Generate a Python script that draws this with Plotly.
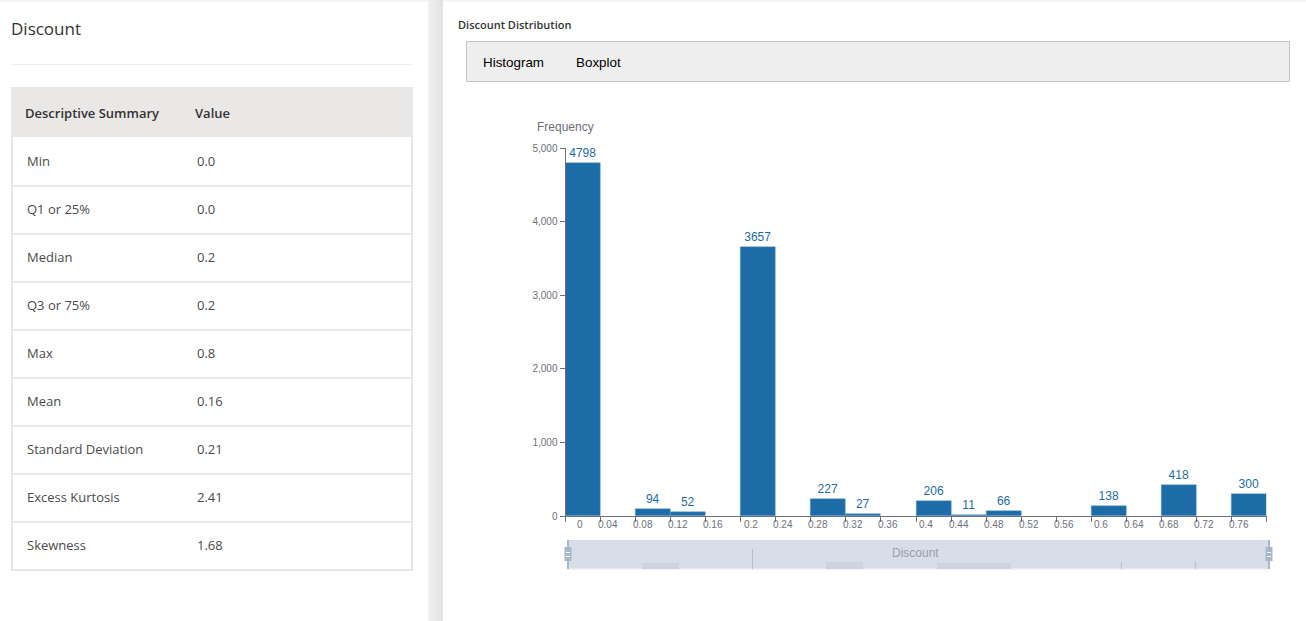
import plotly.graph_objects as go

W = 1306
H = 621

# histogram data
bin_edges = [0, 0.04, 0.08, 0.12, 0.16, 0.2, 0.24, 0.28, 0.32, 0.36, 0.4, 0.44, 0.48, 0.52, 0.56, 0.6, 0.64, 0.68, 0.72, 0.76, 0.8]
bin_labels = ["0", "0.04", "0.08", "0.12", "0.16", "0.2", "0.24", "0.28", "0.32", "0.36", "0.4", "0.44", "0.48", "0.52", "0.56", "0.6", "0.64", "0.68", "0.72", "0.76"]
frequency = [4798, 0, 94, 52, 0, 3657, 0, 227, 27, 0, 206, 11, 66, 0, 0, 138, 0, 418, 0, 300]
y_ticks = [0, 1000, 2000, 3000, 4000, 5000]

# summary table
stat_names = ["Min", "Q1 or 25%", "Median", "Q3 or 75%", "Max", "Mean", "Standard Deviation", "Excess Kurtosis", "Skewness"]
stat_values = ["0.0", "0.0", "0.2", "0.2", "0.8", "0.16", "0.21", "2.41", "1.68"]

# data zoom preview (heights on its own little axis)
shadow_cells = [2, 7, 10, 11]
shadow_heights = [6, 7, 6, 6]
spike_index = [0, 5, 15, 17]
spike_heights = [20, 20, 7, 8]

TEAL = "#1c6ca8"
AXIS = "#6e7079"
UI_FONT = "Open Sans, Noto Sans, sans-serif"
ARIAL = "Liberation Sans, Arial, sans-serif"


def fx(x):
    return x / W


def fy(y):
    return 1 - y / H


shapes = []
notes = []


def rect(x0, y0, x1, y1, fill, line=None, width=1, layer="below"):
    shapes.append(dict(type="rect", xref="paper", yref="paper", x0=fx(x0), x1=fx(x1), y0=fy(y0), y1=fy(y1),
                       fillcolor=fill, line=dict(color=line or fill, width=width if line else 0), layer=layer))


def text(x, y, s, size, color, font=UI_FONT, anchor="left", weight="normal"):
    # annotations carry a couple of px of padding
    shift = -2 if anchor == "left" else 0
    notes.append(dict(xref="paper", yref="paper", x=fx(x), y=fy(y), text=s, showarrow=False, xanchor=anchor, xshift=shift,
                      yanchor="middle", font=dict(size=size, color=color, family=font, weight=weight)))


# page chrome
rect(0, 0, W, 1.5, "#f3f3f3")
for i in range(15):
    shade = 240 - i
    rect(428 + i, 0, 429 + i, H, "rgb(%d,%d,%d)" % (shade, shade, shade))

# left panel
text(11, 29, "Discount", 17, "#333333")
rect(11, 64, 412, 65, "#eeeeee")
rect(12, 88, 412, 570, "#ffffff", "#e6e6e6", 2)
rect(12, 87, 412, 137, "#e9e8e6")
text(25, 113, "Descriptive Summary", 13, "#333333", weight=600)
text(195, 113, "Value", 13, "#333333", weight=600)
for i in range(len(stat_names)):
    yc = 161 + i * 48
    text(27, yc, stat_names[i], 13, "#4a4a4a")
    text(197, yc, stat_values[i], 13, "#4a4a4a")
    if i > 0:
        rect(13, yc - 24, 411, yc - 22, "#e8e8e8")

# right panel header
text(458, 25, "Discount Distribution", 11, "#333333", weight=600)
rect(466.5, 41.5, 1289.5, 81.5, "#eeeeee", "#c4c4c4", 1)
text(483, 62, "Histogram", 13.4, "#000000", ARIAL)
text(576, 62, "Boxplot", 13.4, "#000000", ARIAL)

# chart labels
text(537, 127, "Frequency", 12, AXIS, ARIAL)

# slider chrome
rect(568, 540, 1269, 569, "#d8dde8")
rect(568, 568, 1269, 569.5, "#e8e8e8")
rect(567, 540, 569, 569, "#a7b7cc", layer="above")
rect(1268, 540, 1270, 569, "#a7b7cc", layer="above")
rect(564.5, 547, 571.5, 561, "#a7b7cc", layer="above")
rect(1265.5, 547, 1272.5, 561, "#a7b7cc", layer="above")
for hx in [564.5, 1265.5]:
    rect(hx + 1.5, 552, hx + 5.5, 553, "#ffffff", layer="above")
    rect(hx + 1.5, 556, hx + 5.5, 557, "#ffffff", layer="above")
text(916, 553, "Discount", 12, "#9a9ea8", ARIAL, "center")

# bars sit between the bin edges
centers = []
widths = []
for i in range(len(frequency)):
    centers.append((bin_edges[i] + bin_edges[i + 1]) / 2)
    widths.append(bin_edges[i + 1] - bin_edges[i])

bar_text = []
edge_width = []
for v in frequency:
    if v > 0:
        bar_text.append(str(v))
        edge_width.append(0.5)
    else:
        bar_text.append("")
        edge_width.append(0)

# tick labels are not centred on their ticks in the original
label_shift = {1: 14.5, 3: 10, 4: 7.5}
for i in range(len(bin_labels)):
    notes.append(dict(xref="x", yref="paper", x=bin_edges[i], y=fy(524), text=bin_labels[i], showarrow=False,
                      xshift=label_shift[len(bin_labels[i])], xanchor="center", yanchor="middle",
                      font=dict(size=10, color=AXIS, family=ARIAL)))

fig = go.Figure()
fig.add_trace(go.Bar(x=centers, y=frequency, width=widths, text=bar_text, textposition="outside",
                     cliponaxis=False, textfont=dict(size=12, color=TEAL, family=ARIAL),
                     marker=dict(color=TEAL, line=dict(color="#6a9fc9", width=edge_width)), showlegend=False))

# preview inside the slider
fig.add_trace(go.Bar(x=[c + 0.5 for c in shadow_cells], y=shadow_heights, width=1, xaxis="x2", yaxis="y2",
                     marker=dict(color="#cdd4e0", line=dict(width=0)), showlegend=False))
spike_x = []
spike_y = []
for i in range(len(spike_index)):
    spike_x += [spike_index[i], spike_index[i], None]
    spike_y += [0, spike_heights[i], None]
fig.add_trace(go.Scatter(x=spike_x, y=spike_y, mode="lines", xaxis="x2", yaxis="y2",
                         line=dict(color="#b4bccb", width=1), showlegend=False))

fig.update_layout(
    width=W, height=H, autosize=False,
    margin=dict(l=0, r=0, t=0, b=0, pad=0, autoexpand=False),
    paper_bgcolor="#ffffff", plot_bgcolor="rgba(0,0,0,0)",
    bargap=0, shapes=shapes, annotations=notes,
    xaxis=dict(domain=[fx(565.5), fx(1266.5)], range=[0, 0.8], tickvals=bin_edges, showticklabels=False,
               ticks="outside", ticklen=5, tickcolor=AXIS, showline=True, linecolor=AXIS, showgrid=False, zeroline=False),
    yaxis=dict(domain=[fy(516), fy(148)], range=[0, 5000], tickvals=y_ticks, tickformat=",",
               ticks="outside", ticklen=5, tickcolor=AXIS, showline=True, linecolor=AXIS, showgrid=False, zeroline=False,
               tickfont=dict(size=10, color=AXIS, family=ARIAL)),
    xaxis2=dict(domain=[fx(568), fx(1269)], range=[0, 19], anchor="y2", visible=False),
    yaxis2=dict(domain=[fy(569), fy(549)], range=[0, 20], anchor="x2", visible=False),
)

# the page default margin pushes the figure off the reference position
reset_page = """
document.documentElement.style.overflow = 'hidden';
document.body.style.margin = '0';
document.body.style.padding = '0';
var gd = document.getElementById('{plot_id}');
gd.style.position = 'fixed';
gd.style.left = '0';
gd.style.top = '0';
gd.style.width = '1306px';
gd.style.height = '621px';
Plotly.relayout(gd, {width: 1306, height: 621});
"""

fig.write_html("out.html", config=dict(displayModeBar=False), post_script=reset_page)
